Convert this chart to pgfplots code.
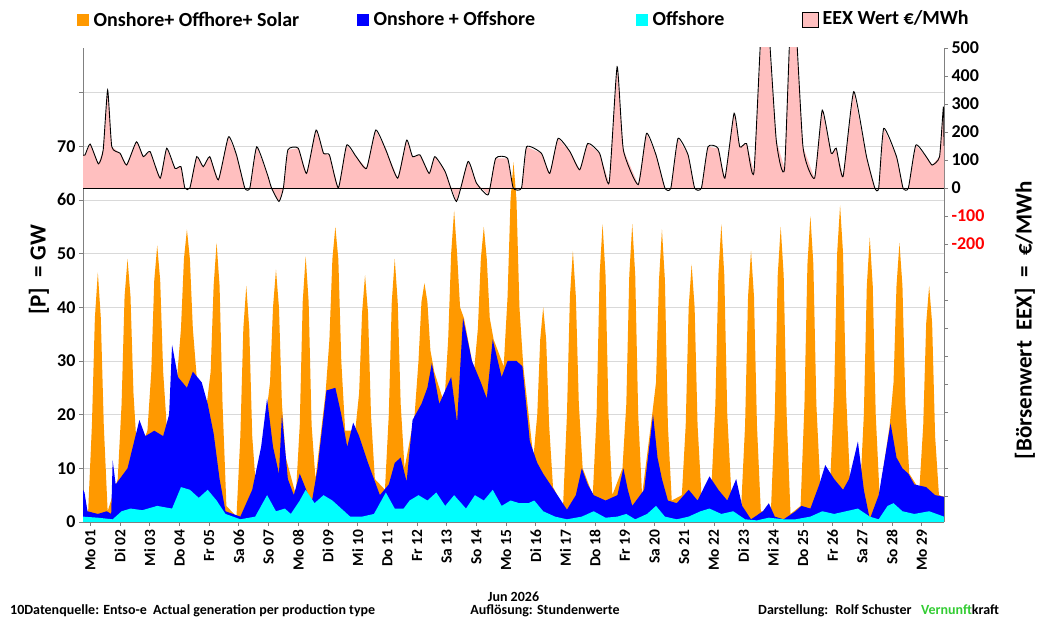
\documentclass[border=0pt]{standalone}
\usepackage{pgfplots}
\pgfplotsset{compat=1.18}
\usepackage{fontspec}
\setmainfont{Carlito}
\definecolor{cor}{RGB}{255,153,0}
\definecolor{cbl}{RGB}{0,0,255}
\definecolor{ccy}{RGB}{0,255,255}
\definecolor{cpk}{RGB}{255,191,191}
\definecolor{cgr}{RGB}{51,204,51}
\definecolor{cgd}{RGB}{217,217,217}
\definecolor{cax}{RGB}{128,128,128}
\begin{document}
\begin{tikzpicture}[x=1pt,y=1pt]
\useasboundingbox (-83,-98) rectangle (958,522);
\begin{axis}[at={(0,0)},anchor=south west,scale only axis,width=861pt,height=474pt,
  xmin=0,xmax=29,ymin=0,ymax=88.3,
  axis x line*=bottom, axis y line*=left,
  axis line style={cax,line width=0.8pt},
  x axis line style={-},y axis line style={-},
  ytick={0,10,...,80},yticklabels={0,10,20,30,40,50,60,70,{}},
  ymajorgrids, grid style={cgd,line width=0.8pt},
  xtick={0.25,1.25,...,28.25},
  xticklabels={Mo 01,Di 02,Mi 03,Do 04,Fr 05,Sa 06,So 07,Mo 08,Di 09,Mi 10,Do 11,Fr 12,Sa 13,So 14,Mo 15,Di 16,Mi 17,Do 18,Fr 19,Sa 20,So 21,Mo 22,Di 23,Mi 24,Do 25,Fr 26,Sa 27,So 28,Mo 29},
  xticklabel style={rotate=90,anchor=east,font=\fontsize{15.5}{16}\selectfont\bfseries},
  yticklabel style={font=\fontsize{18}{19}\selectfont\bfseries},
  /pgf/number format/assume math mode=true,
  tick style={cax,line width=0.8pt},
  major tick length=4pt, tick align=outside,
  clip=true]
\addplot[draw=none,fill=cor] coordinates {(0,6)
(0.17,1.5)(0.3,18)(0.4,38)(0.5,46.5)(0.6,38)(0.7,18)(0.83,2)
(1.17,8)(1.3,22)(1.4,42)(1.5,49)(1.6,42)(1.7,24)(1.83,12)
(2.17,17)(2.3,28)(2.4,45)(2.5,51.5)(2.6,45)(2.7,28)(2.83,17)
(3.17,27)(3.3,36)(3.4,49)(3.5,54.5)(3.6,49)(3.7,36)(3.83,27)
(4.17,22)(4.3,28)(4.4,44)(4.5,52)(4.6,44)(4.7,22)(4.83,3)
(5.17,1)(5.3,16)(5.4,36)(5.5,44)(5.6,36)(5.7,16)(5.83,6)
(6.17,20)(6.3,26)(6.4,40)(6.5,47)(6.6,40)(6.7,22)(6.83,12)
(7.17,5)(7.3,18)(7.4,41)(7.5,49.5)(7.6,41)(7.7,18)(7.83,8)
(8.17,24)(8.3,34)(8.4,49)(8.5,55)(8.6,49)(8.7,30)(8.83,17)
(9.17,17)(9.3,24)(9.4,39)(9.5,46)(9.6,39)(9.7,20)(9.83,8)
(10.17,6)(10.3,20)(10.4,41)(10.5,49)(10.6,41)(10.7,22)(10.83,10)
(11.17,20)(11.3,30)(11.4,41)(11.5,44.5)(11.6,41)(11.7,32)(11.83,28)
(12.17,22)(12.3,34)(12.4,50)(12.5,58)(12.6,50)(12.7,40)(12.83,38)
(13.17,28)(13.3,36)(13.4,49)(13.5,55)(13.6,49)(13.7,38)(13.83,34)
(14.17,29)(14.3,42)(14.4,60)(14.5,67)(14.6,60)(14.7,40)(14.83,29)
(15.17,12)(15.3,20)(15.4,34)(15.5,40)(15.6,34)(15.7,18)(15.83,6.5)
(16.17,3)(16.3,20)(16.4,42)(16.5,50.5)(16.6,42)(16.7,22)(16.83,10)
(17.17,5)(17.3,20)(17.4,46)(17.5,55.5)(17.6,46)(17.7,20)(17.83,5)
(18.17,10)(18.3,22)(18.4,46)(18.5,55.5)(18.6,46)(18.7,20)(18.83,5)
(19.17,20)(19.3,26)(19.4,45)(19.5,54.5)(19.6,45)(19.7,18)(19.83,4)
(20.17,5)(20.3,18)(20.4,40)(20.5,48)(20.6,40)(20.7,18)(20.83,5)
(21.17,7)(21.3,22)(21.4,46)(21.5,55.5)(21.6,46)(21.7,20)(21.83,6)
(22.17,3)(22.3,18)(22.4,42)(22.5,50.5)(22.6,42)(22.7,18)(22.83,2)
(23.17,2)(23.3,20)(23.4,46)(23.5,55)(23.6,46)(23.7,20)(23.83,1.5)
(24.17,3)(24.3,22)(24.4,48)(24.5,57)(24.6,48)(24.7,22)(24.83,7)
(25.17,8)(25.3,24)(25.4,50)(25.5,59)(25.6,50)(25.7,24)(25.83,8)
(26.17,5)(26.3,20)(26.4,44)(26.5,53)(26.6,44)(26.7,20)(26.83,5)
(27.17,18)(27.3,26)(27.4,44)(27.5,52)(27.6,44)(27.7,22)(27.83,9)
(28.17,6)(28.3,18)(28.4,37)(28.5,44)(28.6,37)(28.7,16)(28.83,5)
(29,4.7)} \closedcycle;
\addplot[draw=none,fill=cbl] coordinates {(0,6)(0.05,5.5)(0.15,2)(0.5,1.5)(0.8,2)(0.95,1.5)(1.0,11.5)(1.1,7)(1.5,10)(1.9,19)(2.1,16)(2.4,17)(2.7,16)(2.9,20)(3.0,33)(3.2,27)(3.5,25)(3.7,28)(4.0,26)(4.2,22)(4.4,16.5)(4.6,8)(4.8,2)(5.3,1)(5.7,6)(6.0,14)(6.2,23)(6.4,14)(6.6,9)(6.7,20)(6.9,8)(7.1,5)(7.3,9)(7.7,3.5)(7.9,10)(8.2,24.5)(8.5,25)(8.7,20)(8.9,14)(9.1,18.5)(9.3,16)(9.6,11)(9.8,8)(10.0,5)(10.3,7)(10.5,11)(10.7,12)(10.9,7.5)(11.1,19)(11.4,22)(11.6,25)(11.75,29.6)(12.0,22)(12.4,27)(12.6,18.5)(12.8,38)(13.1,30)(13.4,26)(13.6,23)(13.8,34)(14.1,27)(14.3,30)(14.6,30)(14.8,29)(15.05,15)(15.3,11)(15.5,9)(15.8,6.5)(16.3,2.3)(16.6,5)(16.8,10)(17.0,7)(17.2,5)(17.6,4)(18.0,5)(18.2,10)(18.35,6)(18.5,3)(18.9,6)(19.2,20)(19.35,12)(19.5,8)(19.7,4)(20.0,3.5)(20.4,6)(20.7,4)(21.1,8.5)(21.4,6)(21.7,4)(22.0,8)(22.2,3)(22.5,0.5)(22.9,2)(23.1,3.5)(23.3,1)(23.6,0.5)(24.0,2)(24.2,3)(24.5,2.5)(24.8,7)(25.0,10.6)(25.3,8)(25.6,6)(25.8,8)(26.1,15)(26.3,6)(26.5,0.5)(26.8,5)(27.1,15)(27.2,18.4)(27.4,12)(27.6,10)(27.8,9)(28.0,7)(28.4,6.5)(28.7,5)(29,4.7)} \closedcycle;
\addplot[draw=none,fill=ccy] coordinates {(0,1)(0.5,0.8)(1.0,0.5)(1.3,2)(1.6,2.5)(2.0,2.2)(2.5,3)(3.0,2.5)(3.3,6.5)(3.6,6)(3.9,4.5)(4.2,6)(4.5,4)(4.8,1.5)(5.3,0.5)(5.8,1)(6.0,3)(6.2,5)(6.5,2)(6.8,2.5)(7.0,1.5)(7.3,4)(7.5,6)(7.8,3.5)(8.1,5)(8.4,4)(8.7,2.5)(9.0,1)(9.4,1)(9.8,1.5)(10.0,3.5)(10.2,5.5)(10.5,2.5)(10.8,2.5)(11.0,4)(11.3,5)(11.6,4)(11.9,5.5)(12.2,3)(12.5,5)(12.9,2.5)(13.2,5)(13.5,4)(13.8,6)(14.1,3)(14.4,4)(14.7,3.5)(15.0,3.5)(15.2,4)(15.5,2)(15.9,1)(16.3,0.5)(16.8,1)(17.2,2)(17.6,0.8)(18.0,1)(18.3,1.5)(18.6,0.5)(19.0,1.5)(19.3,3)(19.6,1)(20.0,0.5)(20.4,1)(20.8,2)(21.1,2.5)(21.5,1.5)(21.9,2)(22.3,0.5)(22.7,0.3)(23.1,0.8)(23.6,0.5)(24.0,0.5)(24.5,1)(24.9,2)(25.3,1.5)(25.7,2)(26.1,2.5)(26.5,1)(26.8,0.5)(27.1,3)(27.3,3.5)(27.6,2)(28.0,1.5)(28.5,2)(29,1)} \closedcycle;
\end{axis}
\begin{axis}[at={(0,0)},anchor=south west,scale only axis,width=861pt,height=474pt,
  xmin=0,xmax=29,ymin=-1193,ymax=500,
  axis x line=none, axis y line*=right,
  axis line style={cax,line width=0.8pt},y axis line style={-},
  ytick={-200,-100,...,500},
  yticklabels={\textcolor{red}{-200},\textcolor{red}{-100},0,100,200,300,400,500},
  minor ytick={-1100,-1000,...,-300},
  yticklabel style={font=\fontsize{18}{19}\selectfont\bfseries},
  /pgf/number format/assume math mode=true,
  tick style={cax,line width=0.8pt},
  major tick length=4pt, minor tick length=4pt, tick align=outside,
  clip=true]
\addplot[fill=cpk,draw=none] coordinates {(0,118)(0.07,118)(0.24,157)(0.52,86)(0.68,136)(0.83,350)(0.97,147)(1.25,124)(1.47,82)(1.8,165)(2.03,112)(2.26,130)(2.6,35)(2.82,142)(3.1,70)(3.3,76)(3.43,0)(3.6,0)(3.83,112)(4.05,76)(4.27,112)(4.56,29)(4.9,183)(5.17,118)(5.45,0)(5.62,0)(5.85,147)(6.2,52)(6.35,0)(6.6,-48)(6.75,0)(6.9,136)(7.25,142)(7.53,52)(7.85,207)(8.1,124)(8.3,118)(8.6,0)(8.88,153)(9.2,112)(9.55,70)(9.86,207)(10.2,136)(10.6,35)(10.9,171)(11.1,112)(11.35,118)(11.66,52)(11.85,112)(12.2,58)(12.58,-48)(12.97,95)(13.25,18)(13.65,-24)(13.9,106)(14.3,106)(14.49,0)(14.77,0)(14.94,147)(15.44,124)(15.72,52)(16.0,177)(16.4,130)(16.73,65)(17.0,159)(17.4,124)(17.72,18)(17.99,433)(18.2,136)(18.7,12)(18.98,195)(19.3,118)(19.6,0)(19.8,0)(20.04,177)(20.38,118)(20.6,0)(20.83,0)(21.05,147)(21.39,142)(21.62,35)(21.93,267)(22.12,147)(22.35,159)(22.6,58)(22.95,750)(23.35,171)(23.63,70)(23.9,750)(24.25,147)(24.64,35)(24.9,278)(25.2,124)(25.37,142)(25.6,41)(25.96,344)(26.39,112)(26.67,0)(26.8,0)(26.97,213)(27.4,112)(27.62,0)(27.8,0)(28.05,153)(28.4,112)(28.6,82)(28.85,112)(28.98,290)(29,150)} \closedcycle;
\addplot[black,line width=0.9pt,smooth,tension=0.3] coordinates {(0,118)(0.07,118)(0.24,157)(0.52,86)(0.68,136)(0.83,350)(0.97,147)(1.25,124)(1.47,82)(1.8,165)(2.03,112)(2.26,130)(2.6,35)(2.82,142)(3.1,70)(3.3,76)(3.43,0)(3.6,0)(3.83,112)(4.05,76)(4.27,112)(4.56,29)(4.9,183)(5.17,118)(5.45,0)(5.62,0)(5.85,147)(6.2,52)(6.35,0)(6.6,-48)(6.75,0)(6.9,136)(7.25,142)(7.53,52)(7.85,207)(8.1,124)(8.3,118)(8.6,0)(8.88,153)(9.2,112)(9.55,70)(9.86,207)(10.2,136)(10.6,35)(10.9,171)(11.1,112)(11.35,118)(11.66,52)(11.85,112)(12.2,58)(12.58,-48)(12.97,95)(13.25,18)(13.65,-24)(13.9,106)(14.3,106)(14.49,0)(14.77,0)(14.94,147)(15.44,124)(15.72,52)(16.0,177)(16.4,130)(16.73,65)(17.0,159)(17.4,124)(17.72,18)(17.99,433)(18.2,136)(18.7,12)(18.98,195)(19.3,118)(19.6,0)(19.8,0)(20.04,177)(20.38,118)(20.6,0)(20.83,0)(21.05,147)(21.39,142)(21.62,35)(21.93,267)(22.12,147)(22.35,159)(22.6,58)(22.95,750)(23.35,171)(23.63,70)(23.9,750)(24.25,147)(24.64,35)(24.9,278)(25.2,124)(25.37,142)(25.6,41)(25.96,344)(26.39,112)(26.67,0)(26.8,0)(26.97,213)(27.4,112)(27.62,0)(27.8,0)(28.05,153)(28.4,112)(28.6,82)(28.85,112)(28.98,290)(29,150)};
\addplot[black,line width=0.9pt] coordinates {(0,0)(29,0)};
\end{axis}
\node[rotate=90,font=\fontsize{23}{24}\selectfont\bfseries] at (-44,252) {[P] \ = GW};
\node[rotate=90,font=\fontsize{23}{24}\selectfont\bfseries] at (942,202) {[Börsenwert \ EEX] \ = \ €/MWh};
\begin{scope}[every node/.style={font=\fontsize{20}{22}\selectfont\bfseries,anchor=west,inner sep=0pt}]
\node at (-6,503) {\textcolor{cor}{\rule{12pt}{12pt}} Onshore+ Offhore+ Solar};
\node at (274,503) {\textcolor{cbl}{\rule{12pt}{12pt}} Onshore + Offshore};
\node at (553,503) {\textcolor{ccy}{\rule{12pt}{12pt}} Offshore};
\node at (719,503) {\fcolorbox{black}{cpk}{\rule{0pt}{9pt}\hspace{9pt}}\ EEX Wert €/MWh};
\end{scope}
\begin{scope}[every node/.style={font=\fontsize{14}{15}\selectfont\bfseries,inner sep=0pt}]
\node at (430.5,-75) {Jun 2026};
\node[anchor=west] at (-73,-89) {10Datenquelle: Entso-e \ Actual generation per production type};
\node at (462,-89) {Auflösung: Stundenwerte};
\node[anchor=west] at (675,-89) {Darstellung: \ Rolf Schuster \ \ \textcolor{cgr}{Vernunft}kraft};
\end{scope}
\end{tikzpicture}
\end{document}
